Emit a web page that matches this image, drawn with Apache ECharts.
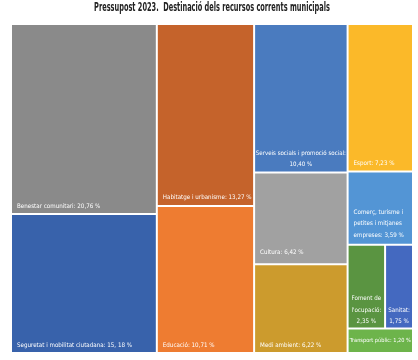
<!DOCTYPE html>
<html><head><meta charset="utf-8">
<script src="https://cdn.jsdelivr.net/npm/echarts@6/dist/echarts.min.js"></script>
<style>html,body{margin:0;padding:0;background:#fff}#c{width:418px;height:360px}</style>
</head><body><div id="c"></div>
<script>
// ---- data ----
const titleText = 'Pressupost 2023.  Destinació dels recursos corrents municipals';
const categories = ['Benestar comunitari', 'Seguretat i mobilitat ciutadana', 'Habitatge i urbanisme', 'Educació',
  'Serveis socials i promoció social', 'Esport', 'Cultura', 'Medi ambient',
  'Comerç, turisme i petites i mitjanes empreses', "Foment de l'ocupació", 'Sanitat', 'Transport públic'];
const values = [20.76, 15.18, 13.27, 10.71, 10.40, 7.23, 6.42, 6.22, 3.59, 2.35, 1.75, 1.20];
const labelTexts = [
  'Benestar comunitari: 20,76 %',
  'Seguretat i mobilitat ciutadana: 15, 18 %',
  'Habitatge i urbanisme: 13,27 %',
  'Educació: 10,71 %',
  'Serveis socials i promoció social:\n10,40 %',
  'Esport: 7,23 %',
  'Cultura: 6,42 %',
  'Medi ambient: 6,22 %',
  'Comerç, turisme i\npetites i mitjanes\nempreses: 3,59 %',
  "Foment de\nl'ocupació:\n2,35 %",
  'Sanitat:\n1,75 %',
  'Transport públic: 1,20 %'
];
const colors = ['#8a8a8a', '#3862ab', '#c5632b', '#ee7c31', '#4a7bbf', '#fbb929', '#a1a1a1', '#cc9b2d',
  '#5395d5', '#5a9441', '#4469c0', '#6db44b'];
const labelPos = ['insideBottomLeft', 'insideBottomLeft', 'insideBottomLeft', 'insideBottomLeft', 'insideBottom',
  'insideBottomLeft', 'insideBottomLeft', 'insideBottomLeft', 'insideBottomLeft', 'insideBottom', 'insideBottom', 'inside'];
const labelDist = [1, 1, 2, 1, 1, 1, 5, 1, 3, 0, 0, 0];
const labelSize = [6.2, 6.2, 6.2, 6.2, 6.1, 6.2, 6.2, 6.2, 6.2, 6.2, 6.2, 5.6];
// grouping of the cells, as drawn: 'split' cuts the longer side, 'row' cuts the shorter side
const grouping = ['split', [
  ['split', [0, 1]],
  ['row', [
    ['split', [2, 3]],
    ['split', [4, ['split', [6, 7]]]],
    ['split', [5, ['split', [8, ['split', [['row', [9, 10]], 11]]]]]]
  ]]
]];

const FONT = "'DejaVu Sans Condensed', 'Liberation Sans', sans-serif";

function leaf(i) {
  const left = labelPos[i] === 'insideBottomLeft';
  const padLeft = Math.max(0, 5 - labelDist[i]);
  return {
    name: categories[i], value: values[i],
    itemStyle: { color: colors[i], borderWidth: 1, borderColor: '#fff' },
    label: {
      show: true, formatter: labelTexts[i], position: labelPos[i], distance: labelDist[i],
      align: left ? 'left' : 'center', padding: left ? [0, 0, 0, padLeft] : 0,
      color: '#fff', fontSize: labelSize[i], lineHeight: 11.5, fontFamily: FONT, overflow: 'none'
    }
  };
}
function gap() {
  return { name: '', value: 1e-7, itemStyle: { color: 'rgba(0,0,0,0)', borderWidth: 0, borderColor: 'rgba(0,0,0,0)' },
    label: { show: false }, emphasis: { disabled: true } };
}
function build(g) {
  if (typeof g === 'number') return leaf(g);
  const kind = g[0], parts = g[1].map(build);
  let children = parts;
  if (kind === 'split') children = [parts[0], gap(), parts[1]];
  return { name: '', children: children, itemStyle: { borderWidth: 0, gapWidth: 0 } };
}
const tree = build(grouping).children;

const chart = echarts.init(document.getElementById('c'), null, { renderer: 'canvas' });
chart.setOption({
  animation: false,
  graphic: [{
    type: 'text', x: 212, y: 2, scaleX: 0.61,
    style: { text: titleText, align: 'center', verticalAlign: 'top', fill: '#222',
      font: "bold 12px 'DejaVu Sans Condensed', sans-serif" }
  }],
  series: [{
    type: 'treemap',
    left: 11, top: 24, width: 402, height: 329,
    roam: false, nodeClick: false,
    breadcrumb: { show: false },
    sort: false,
    squareRatio: 100,
    visibleMin: 0,
    itemStyle: { borderWidth: 0, gapWidth: 0, borderColor: '#fff' },
    upperLabel: { show: false },
    data: tree
  }]
});
</script></body></html>
